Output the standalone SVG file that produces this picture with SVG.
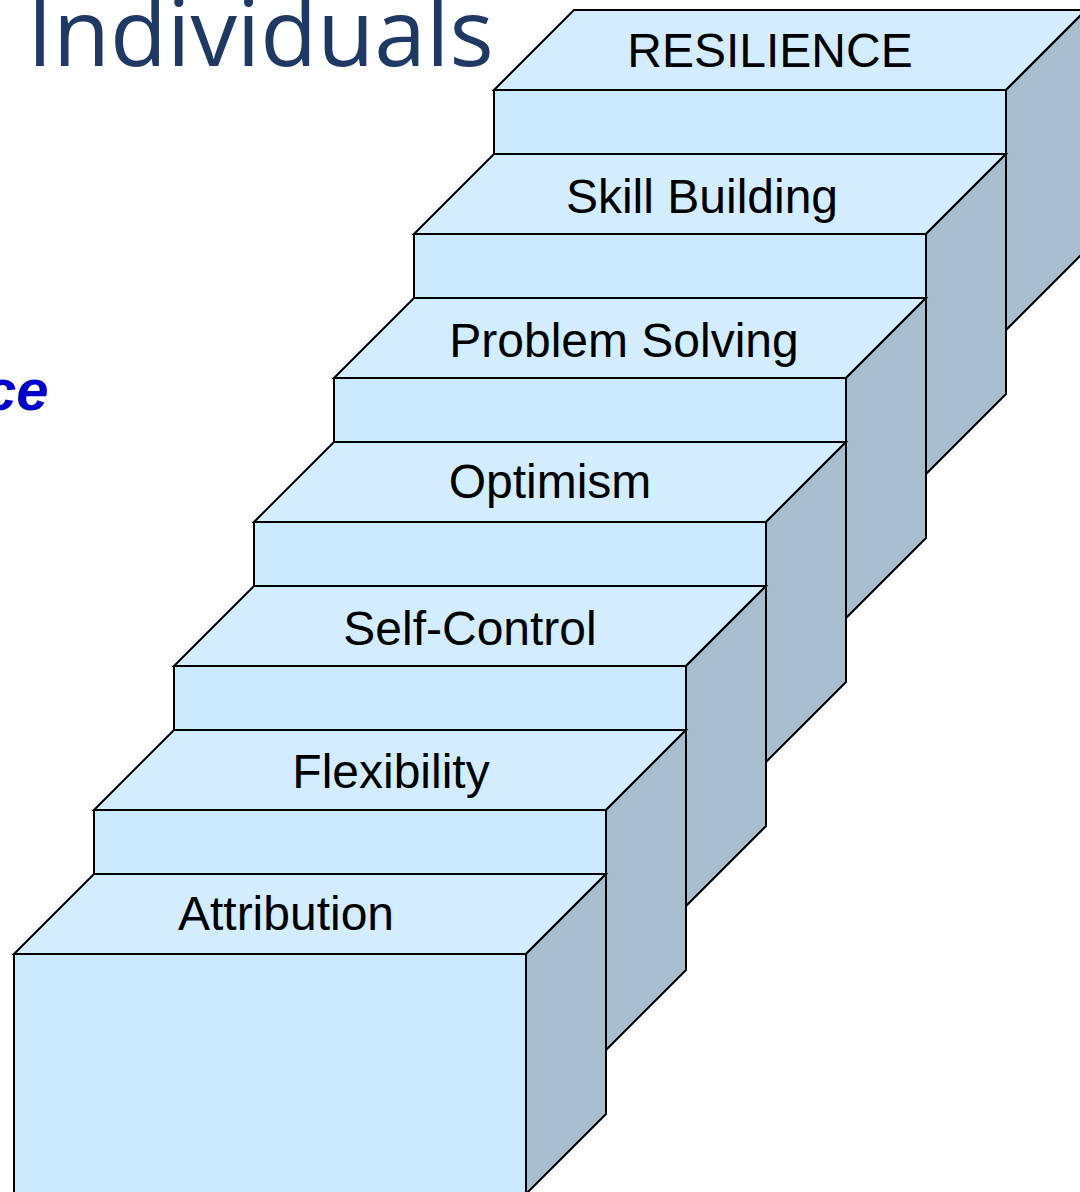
<svg xmlns="http://www.w3.org/2000/svg" width="1080" height="1192" viewBox="0 0 1080 1192">
  <style>
    .face { stroke: #000; stroke-width: 2; stroke-linejoin: miter; }
    .top { fill: #D4EDFE; }
    .front { fill: #CCEAFE; }
    .side { fill: #A6BECD; }
    .label { font-family: "Liberation Sans", Arial, sans-serif; font-size: 48px; fill: #000; text-anchor: middle; }
  </style>
  <defs>
    <!-- one stair block: front at (0,0), 512 wide, 240 tall, 80 deep at 45 degrees -->
    <g id="block">
      <rect class="face front" x="0" y="0" width="512" height="240"/>
      <polygon class="face top" points="0,0 80,-80 592,-80 512,0"/>
      <polygon class="face side" points="512,0 592,-80 592,160 512,240"/>
    </g>
  </defs>

  <rect width="1080" height="1192" fill="#fff"/>

  <text x="27" y="66" font-family="'Open Sans', 'Noto Sans', sans-serif" font-size="93" fill="#1F3864">Individuals</text>
  <text x="-16" y="410" font-family="'Liberation Sans', Arial, sans-serif" font-size="58" font-weight="bold" font-style="italic" fill="#0000CC">ce</text>

  <!-- blocks drawn from the top step down so lower steps overlap the ones above -->
  <g id="step-resilience">
    <use href="#block" x="494" y="90"/>
    <text class="label" x="770" y="67" font-size="46">RESILIENCE</text>
  </g>
  <g id="step-skill-building">
    <use href="#block" x="414" y="234"/>
    <text class="label" x="702" y="213">Skill Building</text>
  </g>
  <g id="step-problem-solving">
    <use href="#block" x="334" y="378"/>
    <text class="label" x="624" y="357">Problem Solving</text>
  </g>
  <g id="step-optimism">
    <use href="#block" x="254" y="522"/>
    <text class="label" x="550" y="498">Optimism</text>
  </g>
  <g id="step-self-control">
    <use href="#block" x="174" y="666"/>
    <text class="label" x="470" y="645">Self-Control</text>
  </g>
  <g id="step-flexibility">
    <use href="#block" x="94" y="810"/>
    <text class="label" x="391" y="788">Flexibility</text>
  </g>
  <g id="step-attribution">
    <use href="#block" x="14" y="954"/>
    <text class="label" x="286" y="930">Attribution</text>
  </g>

  <g id="connectors"/>
</svg>
